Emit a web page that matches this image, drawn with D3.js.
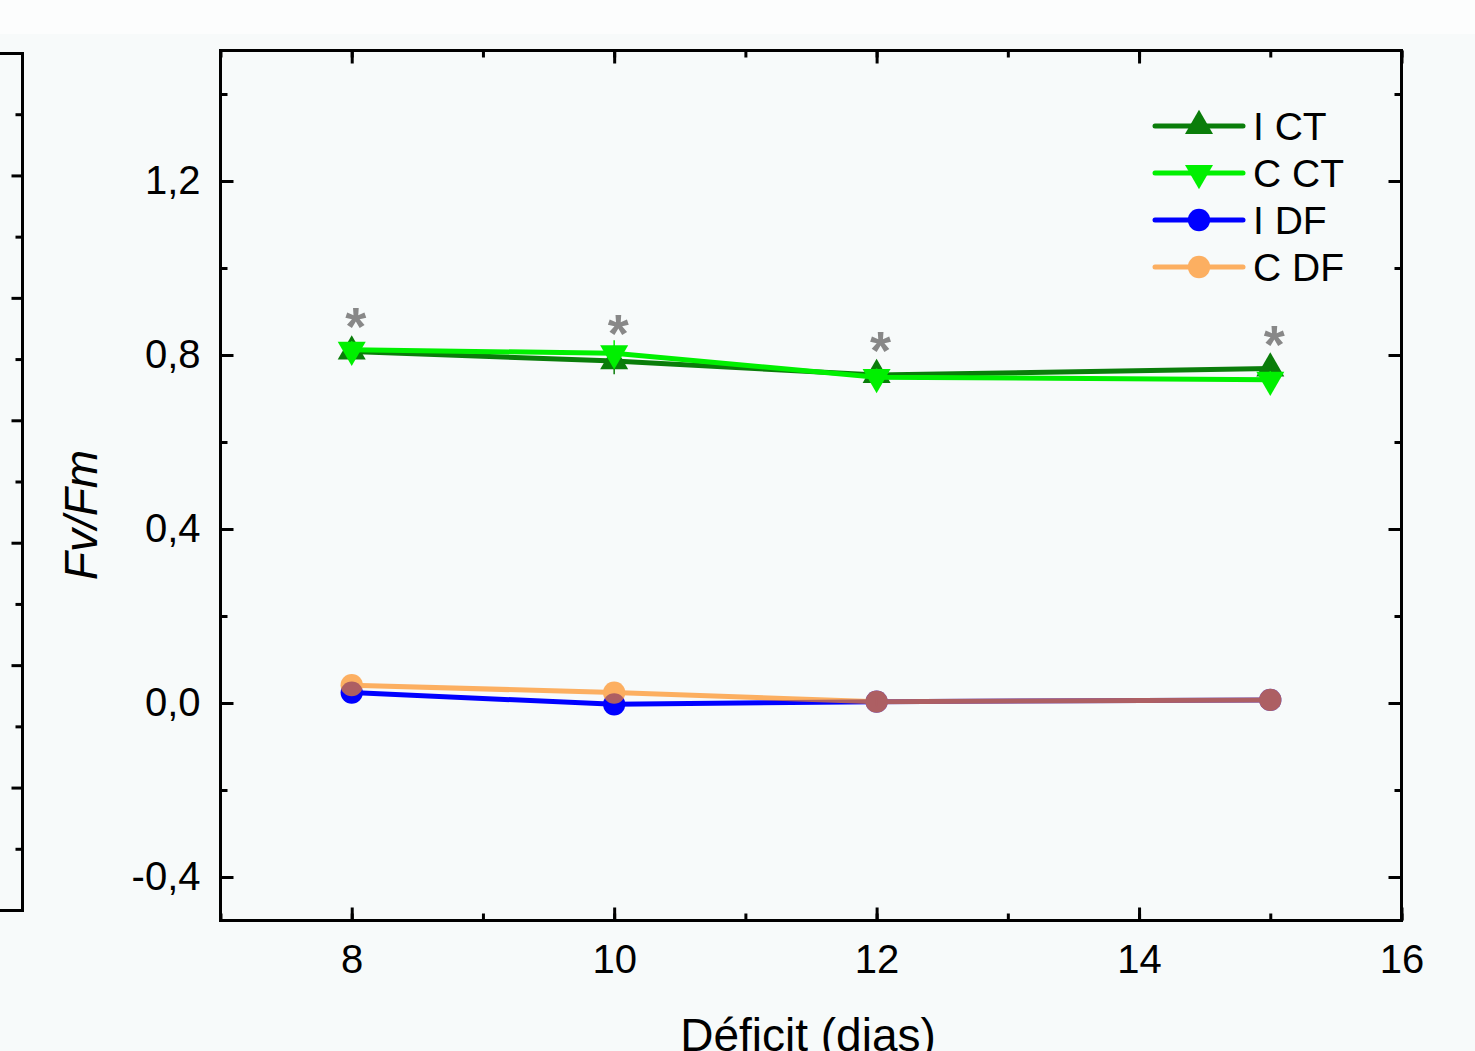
<!DOCTYPE html>
<html>
<head>
<meta charset="utf-8">
<script src="https://cdn.jsdelivr.net/npm/d3@7"></script>
<style>
  body { margin: 0; background: #f7fafa; }
  svg { display: block; font-family: "Liberation Sans", Arial, sans-serif; }
</style>
</head>
<body>
<svg id="chart"></svg>
<script>
// data
var days = [8, 10, 12, 15];
var iCT = [0.808, 0.786, 0.754, 0.769];
var cCT = [0.812, 0.804, 0.749, 0.743];
var iDF = [0.024, -0.003, 0.003, 0.007];
var cDF = [0.041, 0.024, 0.003, 0.007];
var errCT = [0.02, 0.03, 0.02, 0.02];
var errDF = [0.01, 0.01, 0.01, 0.01];
var starY = [0.885, 0.869, 0.83, 0.844];
var xTicks = [8, 10, 12, 14, 16];
var yTicks = [-0.4, 0, 0.4, 0.8, 1.2];
var seriesNames = ["I CT", "C CT", "I DF", "C DF"];

var width = 1475, height = 1051;
var svg = d3.select("#chart").attr("width", width).attr("height", height);

// background, lighter band at the top
svg.append("rect").attr("width", width).attr("height", height).attr("fill", "#f7fafa");
svg.append("rect").attr("width", width).attr("height", 34).attr("fill", "#fcfdfd");

var plotLeft = 220.5, plotRight = 1401.5, plotTop = 50.5, plotBottom = 920.5;

var x = d3.scaleLinear().domain([7, 16]).range([plotLeft, plotRight]);
var y = d3.scaleLinear().domain([-0.5, 1.5]).range([plotBottom, plotTop]);

var fmt = function(v) { return d3.format(".1f")(v).replace(".", ",").replace("−", "-"); };

function styleAxis(g) {
    g.select(".domain").remove();
    g.selectAll("line").attr("stroke", "#000").attr("stroke-width", 3);
    g.selectAll("text").attr("fill", "#000").attr("font-size", 40)
        .attr("font-family", "'Liberation Sans', Arial, sans-serif");
}

var xMinor = d3.range(7, 17, 1);
var yMinor = d3.range(-0.4, 1.5, 0.2);

// bottom axis with labels
svg.append("g").attr("transform", "translate(0," + plotBottom + ")")
    .call(d3.axisBottom(x).tickValues(xTicks).tickSize(-13).tickPadding(24).tickFormat(d3.format("d")))
    .call(styleAxis)
    .selectAll("text").attr("dy", "0.71em");
svg.append("g").attr("transform", "translate(0," + plotBottom + ")")
    .call(d3.axisBottom(x).tickValues(xMinor).tickSize(-7).tickFormat(""))
    .call(styleAxis);
// top axis
svg.append("g").attr("transform", "translate(0," + plotTop + ")")
    .call(d3.axisTop(x).tickValues(xTicks).tickSize(-13).tickFormat(""))
    .call(styleAxis);
svg.append("g").attr("transform", "translate(0," + plotTop + ")")
    .call(d3.axisTop(x).tickValues(xMinor).tickSize(-7).tickFormat(""))
    .call(styleAxis);
// left axis with labels
svg.append("g").attr("transform", "translate(" + plotLeft + ",0)")
    .call(d3.axisLeft(y).tickValues(yTicks).tickSize(-13).tickPadding(20).tickFormat(fmt))
    .call(styleAxis);
svg.append("g").attr("transform", "translate(" + plotLeft + ",0)")
    .call(d3.axisLeft(y).tickValues(yMinor).tickSize(-7).tickFormat(""))
    .call(styleAxis);
// right axis
svg.append("g").attr("transform", "translate(" + plotRight + ",0)")
    .call(d3.axisRight(y).tickValues(yTicks).tickSize(-13).tickFormat(""))
    .call(styleAxis);
svg.append("g").attr("transform", "translate(" + plotRight + ",0)")
    .call(d3.axisRight(y).tickValues(yMinor).tickSize(-7).tickFormat(""))
    .call(styleAxis);

// frame
svg.append("rect")
    .attr("x", plotLeft).attr("y", plotTop)
    .attr("width", plotRight - plotLeft).attr("height", plotBottom - plotTop)
    .attr("fill", "none").attr("stroke", "#000").attr("stroke-width", 3);

// right edge of the neighbouring panel (cropped)
var yPrev = d3.scaleLinear().domain([0, 14]).range([910, 53]);
svg.append("path")
    .attr("d", "M0,53.5H22.5V910.5H0")
    .attr("fill", "none").attr("stroke", "#000").attr("stroke-width", 3);
svg.append("g").attr("transform", "translate(22.5,0)")
    .call(d3.axisRight(yPrev).tickValues([2, 4, 6, 8, 10, 12]).tickSize(-11).tickFormat(""))
    .call(styleAxis);
svg.append("g").attr("transform", "translate(22.5,0)")
    .call(d3.axisRight(yPrev).tickValues([1, 3, 5, 7, 9, 11, 13]).tickSize(-7).tickFormat(""))
    .call(styleAxis);

// axis titles
svg.append("text")
    .attr("x", 808).attr("y", 1051)
    .attr("text-anchor", "middle")
    .attr("font-size", 46)
    .text("Déficit (dias)");
svg.append("text")
    .attr("transform", "translate(97,515) rotate(-90)")
    .attr("text-anchor", "middle")
    .attr("font-size", 46)
    .attr("font-style", "italic")
    .text("Fv/Fm");

var series = [
    { name: seriesNames[0], values: iCT, err: errCT, color: "#0a7d0a", symbol: d3.symbolTriangle, rot: 0, opacity: 1 },
    { name: seriesNames[1], values: cCT, err: errCT, color: "#00f000", symbol: d3.symbolTriangle, rot: 180, opacity: 1 },
    { name: seriesNames[2], values: iDF, err: errDF, color: "#0000ff", symbol: d3.symbolCircle, rot: 0, opacity: 1 },
    { name: seriesNames[3], values: cDF, err: errDF, color: "#ff8c1a", symbol: d3.symbolCircle, rot: 0, opacity: 0.68 }
];

var line = d3.line()
    .x(function(d) { return x(d[0]); })
    .y(function(d) { return y(d[1]); });

function markSize(s) { return s.symbol === d3.symbolCircle ? 390 : 340; }

series.forEach(function(s) {
    var pts = days.map(function(d, i) { return [d, s.values[i], s.err[i]]; });
    var g = svg.append("g").attr("opacity", s.opacity);
    g.append("path")
        .datum(pts)
        .attr("d", line)
        .attr("fill", "none")
        .attr("stroke", s.color)
        .attr("stroke-width", 5);
    g.selectAll(".pt").data(pts).enter().append("path")
        .attr("d", d3.symbol().type(s.symbol).size(markSize(s)))
        .attr("transform", function(d) { return "translate(" + x(d[0]) + "," + y(d[1]) + ") rotate(" + s.rot + ")"; })
        .attr("fill", s.color);
    // error bars
    g.selectAll(".err").data(pts).enter().append("line")
        .attr("x1", function(d) { return x(d[0]); })
        .attr("x2", function(d) { return x(d[0]); })
        .attr("y1", function(d) { return y(d[1] - d[2]); })
        .attr("y2", function(d) { return y(d[1] + d[2]); })
        .attr("stroke", s.color)
        .attr("stroke-width", 1.5);
});

// significance stars
svg.selectAll(".star").data(days).enter().append("text")
    .attr("x", function(d) { return x(d) + 4; })
    .attr("y", function(d, i) { return y(starY[i]); })
    .attr("dy", "0.5em")
    .attr("text-anchor", "middle")
    .attr("font-size", 54)
    .attr("font-weight", "bold")
    .attr("fill", "#888")
    .text("*");

// legend
var legend = svg.append("g").attr("transform", "translate(1155,126)");
series.forEach(function(s, i) {
    var row = legend.append("g").attr("transform", "translate(0," + (i * 47) + ")").attr("opacity", s.opacity);
    row.append("line")
        .attr("x1", 0).attr("x2", 88)
        .attr("stroke", s.color).attr("stroke-width", 5)
        .attr("stroke-linecap", "round");
    row.append("path")
        .attr("d", d3.symbol().type(s.symbol).size(markSize(s)))
        .attr("transform", "translate(44,0) rotate(" + s.rot + ")")
        .attr("fill", s.color);
    legend.append("text")
        .attr("x", 98).attr("y", i * 47)
        .attr("dy", "0.36em")
        .attr("font-size", 39)
        .attr("fill", "#000")
        .text(s.name);
});
</script>
</body>
</html>
